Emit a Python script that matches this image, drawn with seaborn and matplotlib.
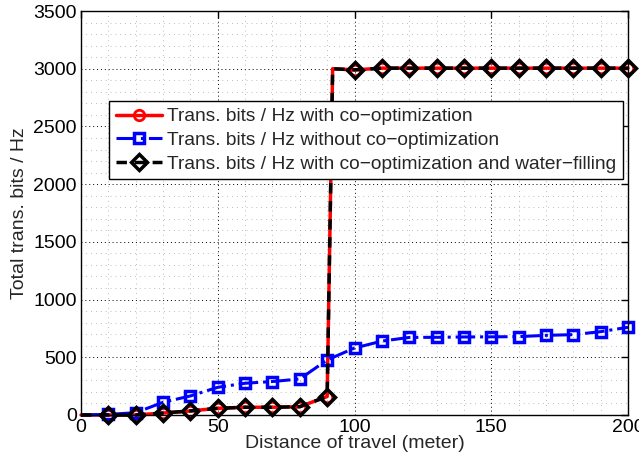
import numpy as np
import pandas as pd
import matplotlib
matplotlib.use("Agg")
import matplotlib.pyplot as plt
from matplotlib.ticker import MultipleLocator
import seaborn as sns

# Data
dist = [0, 10, 20, 30, 40, 50, 60, 70, 80, 90, 100, 110, 120, 130, 140, 150, 160, 170, 180, 190, 200]
bits_without = [0, 5, 20, 110, 165, 240, 275, 290, 312, 477, 580, 640, 672, 673, 676, 677, 679, 690, 696, 722, 760]

# co-optimization curves have one extra point where the jump happens
dist_co = [0, 10, 20, 30, 40, 50, 60, 70, 80, 90, 92, 100, 110, 120, 130, 140, 150, 160, 170, 180, 190, 200]
bits_co = [0, 0, 0, 17, 35, 58, 67, 67, 72, 160, 3000, 2990, 3005, 3005, 3005, 3005, 3005, 3005, 3005, 3005, 3005, 3005]
bits_co_wf = [0, 0, 0, 17, 35, 58, 67, 67, 72, 160, 3000, 2990, 3005, 3005, 3005, 3005, 3005, 3005, 3005, 3005, 3005, 3005]

labels = [
    "Trans. bits / Hz with co\u2212optimization",
    "Trans. bits / Hz without co\u2212optimization",
    "Trans. bits / Hz with co\u2212optimization and water\u2212filling",
]

sns.set_theme(style="white")
plt.rcParams["font.family"] = ["Liberation Sans", "DejaVu Sans"]
plt.rcParams["font.size"] = 14

fig = plt.figure(figsize=(6.39, 4.63), dpi=100)
ax = fig.add_axes([0.1268, 0.1037, 0.856, 0.8725])

mk_co = [i for i in range(len(dist_co)) if dist_co[i] % 10 == 0 and dist_co[i] > 0]
mk = list(range(1, len(dist)))

sns.lineplot(x=dist_co, y=bits_co, ax=ax, color="red", linewidth=2.5,
             marker="o", markersize=7.5, markerfacecolor="none",
             markeredgecolor="red", markeredgewidth=2, markevery=mk_co,
             clip_on=False, label=labels[0])
sns.lineplot(x=dist, y=bits_without, ax=ax, color="blue", linewidth=2.2,
             linestyle="-.", marker="s", markersize=7.5, markerfacecolor="none",
             markeredgecolor="blue", markeredgewidth=2.5, markevery=mk,
             clip_on=False, label=labels[1])
sns.lineplot(x=dist_co, y=bits_co_wf, ax=ax, color="black", linewidth=2.5,
             dashes=(3, 2.2), marker="D", markersize=8, markerfacecolor="none",
             markeredgecolor="black", markeredgewidth=2.5, markevery=mk_co,
             clip_on=False, label=labels[2])

ax.set_xlim(0, 200)
ax.set_ylim(0, 3500)
ax.xaxis.set_major_locator(MultipleLocator(50))
ax.yaxis.set_major_locator(MultipleLocator(500))
ax.xaxis.set_minor_locator(MultipleLocator(10))
ax.yaxis.set_minor_locator(MultipleLocator(100))
ax.grid(which="major", linestyle=(0, (1, 3)), color="black", linewidth=0.7)
ax.grid(which="minor", linestyle=(0, (1, 6)), color="0.5", linewidth=0.5)
ax.set_axisbelow(True)
ax.tick_params(which="major", direction="in", length=5, width=1,
               top=True, right=True, labelsize=14, colors="black", pad=3)
ax.tick_params(which="minor", length=0)
for s in ax.spines.values():
    s.set_color("black")
    s.set_linewidth(1)

ax.set_xlabel("Distance of travel (meter)", fontsize=14, labelpad=-1)
ax.set_ylabel("Total trans. bits / Hz", fontsize=14, labelpad=4)

leg = ax.legend(loc="upper left", bbox_to_anchor=(0.051, 0.777), fontsize=13.8,
                frameon=True, fancybox=False, edgecolor="black", framealpha=1,
                borderpad=0.35, labelspacing=0.33, handlelength=2.4,
                handletextpad=0.3, borderaxespad=0)
leg.get_frame().set_linewidth(1)

plt.savefig("out.png", dpi=100)
